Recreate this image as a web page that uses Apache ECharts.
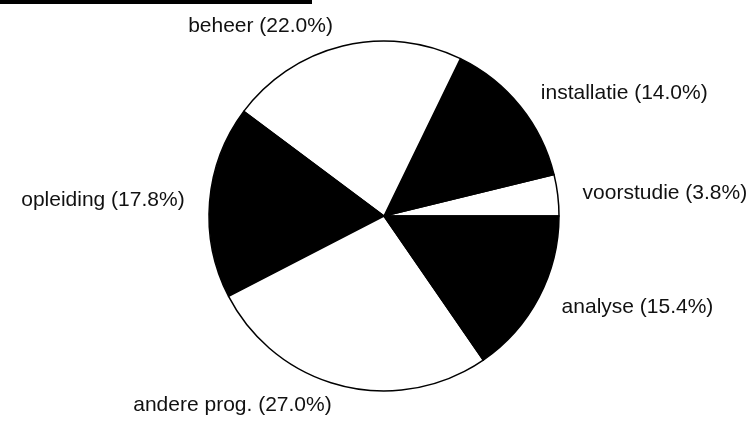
<!DOCTYPE html>
<html>
<head>
<meta charset="utf-8">
<script src="https://cdn.jsdelivr.net/npm/echarts@6/dist/echarts.min.js"></script>
<style>
  html, body { margin: 0; padding: 0; background: #fff; }
  #chart { width: 751px; height: 422px; }
</style>
</head>
<body>
<div id="chart"></div>
<script>
// slices, counter-clockwise from 3 o'clock
var names = ['voorstudie', 'installatie', 'beheer', 'opleiding', 'andere prog.', 'analyse'];
var values = [3.8, 14.0, 22.0, 17.8, 27.0, 15.4];
var fills = ['#fff', '#000', '#fff', '#000', '#fff', '#000'];

var chart = echarts.init(document.getElementById('chart'));
chart.setOption({
    animation: false,
    backgroundColor: '#fff',
    graphic: [{
        type: 'rect',
        shape: {x: 0, y: 0, width: 312, height: 4},
        style: {fill: '#000'}
    }],
    series: [{
        type: 'pie',
        center: [384, 216],
        radius: 175,
        startAngle: 0,
        clockwise: false,
        avoidLabelOverlap: false,
        data: names.map(function (n, i) {
            return {name: n, value: values[i], itemStyle: {color: fills[i]}};
        }),
        itemStyle: {
            borderColor: '#000',
            borderWidth: 1.5
        },
        label: {
            show: true,
            position: 'outside',
            color: '#111',
            fontFamily: 'Liberation Sans, Arial, sans-serif',
            fontSize: 21,
            formatter: function (p) {
                return p.name + ' (' + p.value.toFixed(1) + '%)';
            }
        },
        labelLine: {
            show: false,
            length: 20,
            length2: 0
        }
    }]
});
</script>
</body>
</html>
